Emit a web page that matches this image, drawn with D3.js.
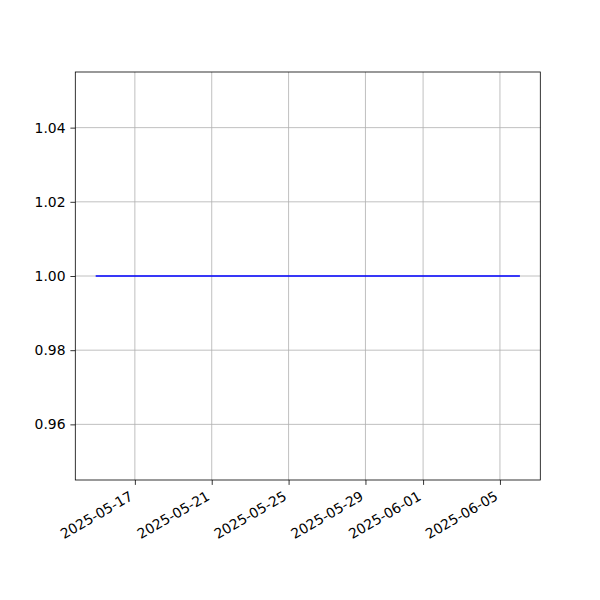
<!DOCTYPE html>
<html>
<head>
<meta charset="utf-8">
<script src="https://cdn.jsdelivr.net/npm/d3@7"></script>
<style>
  html, body { margin: 0; padding: 0; background: #fff; }
  text { font-family: "DejaVu Sans", sans-serif; font-size: 13.9px; fill: #000; }
</style>
</head>
<body>
<svg id="chart" width="600" height="600"></svg>
<script>
// Data
const dates = ["2025-05-15","2025-05-16","2025-05-17","2025-05-18","2025-05-19","2025-05-20","2025-05-21","2025-05-22","2025-05-23","2025-05-24","2025-05-25","2025-05-26","2025-05-27","2025-05-28","2025-05-29","2025-05-30","2025-05-31","2025-06-01","2025-06-02","2025-06-03","2025-06-04","2025-06-05","2025-06-06"];
const values = [1,1,1,1,1,1,1,1,1,1,1,1,1,1,1,1,1,1,1,1,1,1,1];
const xTickLabels = ["2025-05-17","2025-05-21","2025-05-25","2025-05-29","2025-06-01","2025-06-05"];
const yTickValues = [0.96, 0.98, 1.00, 1.02, 1.04];

const parse = d3.utcParse("%Y-%m-%d");
const fmt = d3.utcFormat("%Y-%m-%d");
const data = dates.map((d, i) => ({ date: parse(d), value: values[i] }));

const mLeft = 75.3, mRight = 540.3, mTop = 72, mBottom = 480;
const svg = d3.select("#chart");

const x0 = data[0].date, x1 = data[data.length - 1].date;
const span = x1 - x0;
const x = d3.scaleUtc()
  .domain([new Date(+x0 - 0.05 * span), new Date(+x1 + 0.05 * span)])
  .range([mLeft, mRight]);
const y = d3.scaleLinear().domain([0.945, 1.055]).range([mBottom, mTop]);

const xTicks = xTickLabels.map(parse);

// grid
const grid = svg.append("g");
grid.selectAll(".gx").data(xTicks).enter().append("line")
  .attr("x1", d => x(d)).attr("x2", d => x(d))
  .attr("y1", mTop).attr("y2", mBottom)
  .attr("stroke", "#b0b0b0").attr("stroke-width", 0.8);
grid.selectAll(".gy").data(yTickValues).enter().append("line")
  .attr("x1", mLeft).attr("x2", mRight)
  .attr("y1", d => y(d)).attr("y2", d => y(d))
  .attr("stroke", "#b0b0b0").attr("stroke-width", 0.8);

// line
const line = d3.line().x(d => x(d.date)).y(d => y(d.value));
svg.append("path").datum(data)
  .attr("d", line)
  .attr("fill", "none")
  .attr("stroke", "#0000ff")
  .attr("stroke-width", 1.5)
  .attr("stroke-linecap", "square");

// axes
const xAxis = d3.axisBottom(x).tickValues(xTicks).tickFormat(fmt).tickSize(4.9).tickPadding(0);
const gx = svg.append("g").attr("transform", `translate(0,${mBottom})`).call(xAxis);
gx.attr("font-size", null).attr("font-family", null);
gx.select(".domain").remove();
gx.selectAll(".tick line").attr("stroke", "#000").attr("stroke-width", 0.8);
gx.selectAll(".tick text")
  .attr("text-anchor", "end")
  .attr("dy", null)
  .attr("y", 0)
  .attr("transform", "translate(-1.5,19) rotate(-30)");

const yAxis = d3.axisLeft(y).tickValues(yTickValues).tickFormat(d3.format(".2f")).tickSize(4.9).tickPadding(4.9);
const gy = svg.append("g").attr("transform", `translate(${mLeft},0)`).call(yAxis);
gy.attr("font-size", null).attr("font-family", null);
gy.select(".domain").remove();
gy.selectAll(".tick line").attr("stroke", "#000").attr("stroke-width", 0.8);

// frame
svg.append("rect")
  .attr("x", mLeft).attr("y", mTop)
  .attr("width", mRight - mLeft).attr("height", mBottom - mTop)
  .attr("fill", "none").attr("stroke", "#000").attr("stroke-width", 0.8);
</script>
</body>
</html>
